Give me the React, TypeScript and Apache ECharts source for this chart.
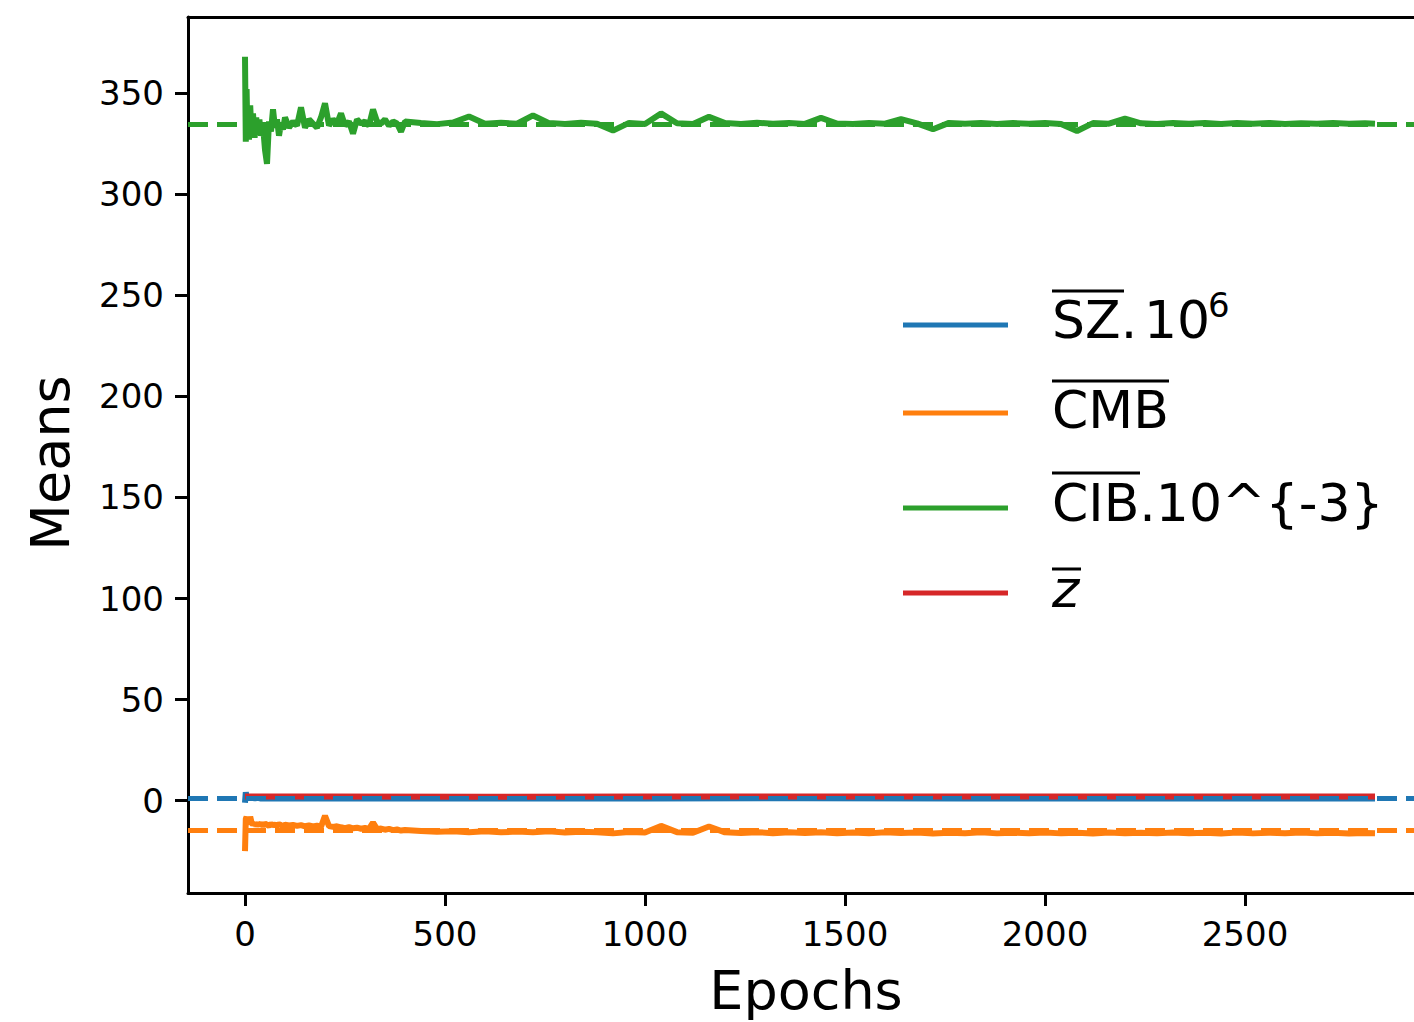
import React, { useEffect, useRef } from "react";
import * as echarts from "echarts";

// Shared epoch samples for CMB and CIB curves
const epochs = [
  0, 2, 4, 6, 8, 10, 13, 16, 20, 24, 28, 32, 36, 40, 45, 50, 55, 60, 65, 70, 75, 80, 85, 90, 95, 100,
  110, 120, 130, 140, 150, 160, 170, 180, 190, 200, 210, 220, 230, 240, 250, 260, 270, 280, 290, 300,
  310, 320, 330, 340, 350, 360, 370, 380, 390, 400,
  440, 480, 520, 560, 600, 640, 680, 720, 760, 800, 840, 880, 920, 960, 1000, 1040, 1080, 1120, 1160,
  1200, 1240, 1280, 1320, 1360, 1400, 1440, 1480, 1520, 1560, 1600, 1640, 1680, 1720, 1760, 1800,
  1840, 1880, 1920, 1960, 2000, 2040, 2080, 2120, 2160, 2200, 2240, 2280, 2320, 2360, 2400, 2440,
  2480, 2520, 2560, 2600, 2640, 2680, 2720, 2760, 2800, 2825,
];

const cibValues = [
  368, 326, 352, 329, 341, 327, 344, 331, 340, 328, 338, 330, 337, 329, 334, 322, 315, 336, 331, 342,
  333, 337, 329, 335, 332, 338,
  333, 336, 334, 343, 333, 337, 335, 333, 338, 345, 334, 337, 335, 340, 334, 336, 330, 337, 335, 336,
  334, 342, 336, 335, 337, 334, 336, 335, 331, 336,
  335.3, 334.7, 335.5, 338.5, 334.9, 335.4, 334.9, 339, 335.2, 334.8, 335.4, 334.9, 331.5, 335.3,
  334.8, 340, 335.1, 334.8, 338.3, 335.2, 334.8, 335.4, 334.9, 335.2, 334.8, 337.8, 335.0, 334.8,
  335.3, 334.9, 337.2, 335.1, 332.2, 335.3, 334.9, 335.3, 334.8, 335.2, 334.9, 335.3, 334.8, 331.3,
  335.2, 334.9, 337.4, 335.1, 334.8, 335.3, 334.9, 335.2, 334.8, 335.2, 334.9, 335.3, 334.8, 335.1,
  334.9, 335.2, 334.9, 335.1, 334.9,
];

const cmbValues = [
  -25, -9, -8, -11, -9, -12, -8, -10.5, -12, -11, -12.5, -11.2, -12, -11.5, -12.3, -11.4, -11.9, -12.5,
  -11.6, -12.2, -11.8, -12.4, -11.7, -12.1, -12.6, -11.9,
  -12.3, -12.0, -12.5, -12.1, -12.7, -12.3, -12.8, -12.4, -12.9, -7.5, -12.6, -13.0, -12.7, -13.2,
  -13.6, -13.1, -13.7, -13.4, -13.9, -13.5, -14.0, -10.8, -14.1, -13.8, -14.4, -14.0, -14.6, -14.3,
  -14.8, -14.5,
  -15.0, -15.4, -15.1, -15.6, -15.2, -15.7, -15.3, -15.6, -15.2, -15.8, -15.4, -15.7, -16.2, -15.5,
  -15.8, -12.5, -15.6, -15.9, -12.8, -15.7, -16.0, -15.6, -16.1, -15.7, -16.0, -15.6, -16.1, -15.8,
  -16.2, -15.7, -16.0, -15.8, -16.3, -15.9, -16.1, -15.7, -16.2, -15.9, -16.1, -15.8, -16.2, -15.9,
  -16.3, -15.8, -16.1, -15.9, -16.2, -15.8, -16.1, -15.9, -16.3, -15.8, -16.2, -15.9, -16.1, -15.8,
  -16.2, -15.9, -16.3, -16.0, -16.1,
];

const szEpochs = [0, 2, 4, 6, 8, 10, 13, 16, 20, 25, 30, 40, 60, 100, 200, 400, 700, 1000, 1400, 1800, 2200, 2600, 2825];
const szValues = [-1.0, 4.2, 1.6, 3.0, 0.8, 2.3, 1.0, 1.9, 1.3, 1.1, 1.5, 1.0, 1.2, 1.1, 1.2, 1.1, 1.0, 1.1, 1.2, 1.1, 1.0, 1.1, 1.1];

const zEpochs = [0, 10, 50, 200, 600, 1000, 1500, 2000, 2500, 2825];
const zValues = [2.0, 2.1, 2.0, 2.0, 1.9, 2.0, 2.0, 2.1, 2.0, 2.0];

const meanSZ = 1.1;
const meanCMB = -14.9;
const meanCIB = 334.7;

const xTicks = [0, 500, 1000, 1500, 2000, 2500];
const yTicks = [0, 50, 100, 150, 200, 250, 300, 350];

const C_BLUE = "#1f77b4";
const C_ORANGE = "#ff7f0e";
const C_GREEN = "#2ca02c";
const C_RED = "#d62728";
const FONT = "DejaVu Sans";

const zip = (xs: number[], ys: number[]) => xs.map((x, i) => [x, ys[i]]);

export default function App() {
  const ref = useRef<HTMLDivElement>(null);
  useEffect(() => {
    document.body.style.margin = "0";
    const chart = echarts.init(ref.current!, undefined, { renderer: "svg" });
    const lineSeries = (name: string, data: number[][], color: string, mean?: number) => ({
      name,
      type: "line",
      data,
      showSymbol: false,
      symbol: "none",
      lineStyle: { color, width: 6 },
      itemStyle: { color },
      markLine:
        mean === undefined
          ? undefined
          : {
              silent: true,
              symbol: ["none", "none"],
              label: { show: false },
              lineStyle: { color, width: 5, type: [20, 9], opacity: 1 },
              emphasis: { disabled: true },
              data: [{ yAxis: mean }],
            },
    });
    const overline = (x1: number, x2: number, y: number) => ({
      type: "line",
      shape: { x1, y1: y, x2, y2: y },
      style: { stroke: "#000", lineWidth: 3 },
    });
    const legLine = (y: number, color: string) => ({
      type: "line",
      shape: { x1: 903, y1: y, x2: 1008, y2: y },
      style: { stroke: color, lineWidth: 5 },
    });
    const txt = (text: string, x: number, y: number, size: number, extra: any = {}) => ({
      type: "text",
      x,
      y,
      style: {
        text,
        x: 0,
        y: 0,
        fill: "#000",
        fontSize: size,
        fontFamily: FONT,
        align: "left",
        verticalAlign: "middle",
        ...extra,
      },
    });
    const axisLineStyle = { show: true, onZero: false, lineStyle: { color: "#000", width: 3 } };
    chart.setOption({
      animation: false,
      backgroundColor: "#fff",
      grid: {
        left: 188,
        top: 17,
        right: 0,
        bottom: 129,
        show: false,
      },
      xAxis: [
        {
          type: "value",
          position: "bottom",
          min: -142.5,
          max: 2922.5,
          splitLine: { show: false },
          axisLine: axisLineStyle,
          axisTick: {
            show: true,
            inside: false,
            length: 13,
            lineStyle: { color: "#000", width: 3 },
            customValues: xTicks,
          },
          axisLabel: {
            fontSize: 34,
            fontFamily: FONT,
            color: "#000",
            margin: 24,
            customValues: xTicks,
            formatter: (v: number) => String(v),
          },
        },
        {
          type: "value",
          position: "top",
          min: -142.5,
          max: 2922.5,
          splitLine: { show: false },
          axisLine: axisLineStyle,
          axisTick: { show: false },
          axisLabel: { show: false },
        },
      ],
      yAxis: {
        type: "value",
        min: -45.7,
        max: 387.7,
        splitLine: { show: false },
        axisLine: axisLineStyle,
        axisTick: {
          show: true,
          inside: false,
          length: 13,
          lineStyle: { color: "#000", width: 3 },
          customValues: yTicks,
        },
        axisLabel: {
          fontSize: 34,
          fontFamily: FONT,
          color: "#000",
          margin: 24,
          customValues: yTicks,
          formatter: (v: number) => String(v),
        },
      },
      series: [
        lineSeries("SZ", zip(szEpochs, szValues), C_BLUE, meanSZ),
        lineSeries("CMB", zip(epochs, cmbValues), C_ORANGE, meanCMB),
        lineSeries("CIB", zip(epochs, cibValues), C_GREEN, meanCIB),
        lineSeries("z", zip(zEpochs, zValues), C_RED),
      ],
      graphic: [
        txt("Epochs", 806, 990, 54, { align: "center" }),
        {
          type: "text",
          x: 50,
          y: 463,
          rotation: Math.PI / 2,
          style: {
            text: "Means",
            x: 0,
            y: 0,
            fill: "#000",
            fontSize: 54,
            fontFamily: FONT,
            align: "center",
            verticalAlign: "middle",
          },
        },
        legLine(325, C_BLUE),
        legLine(413, C_ORANGE),
        legLine(508, C_GREEN),
        legLine(593, C_RED),
        txt("SZ.", 1052, 320, 52),
        txt("10", 1144, 320, 52),
        txt("6", 1208, 305, 34),
        overline(1052, 1124, 291),
        txt("CMB", 1052, 410, 52),
        overline(1052, 1169, 381),
        txt("CIB.10^{-3}", 1052, 503, 52),
        overline(1052, 1140, 473),
        txt("z", 1052, 589, 52, { fontStyle: "italic" }),
        overline(1052, 1081, 569),
      ],
    });
    return () => chart.dispose();
  }, []);
  return <div ref={ref} style={{ width: 1414, height: 1022 }} />;
}
